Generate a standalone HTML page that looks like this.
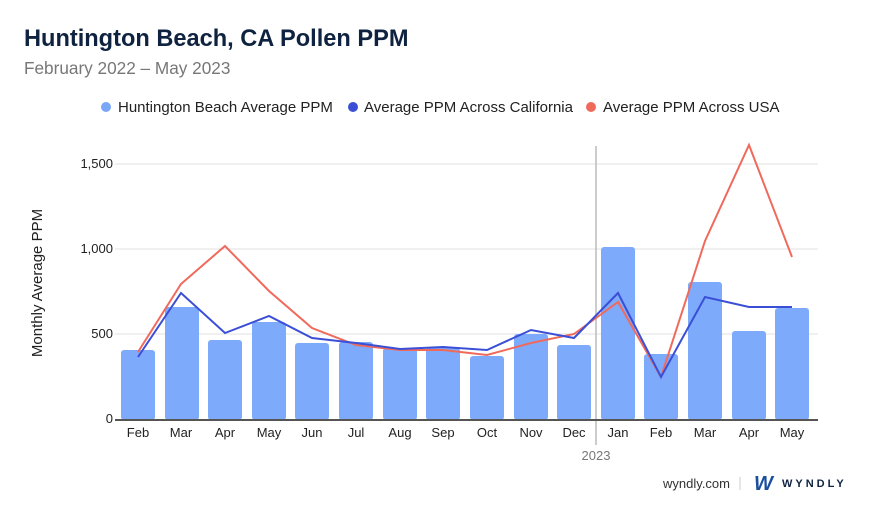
<!DOCTYPE html>
<html><head><meta charset="utf-8"><style>
body{margin:0;background:#fff;font-family:"Liberation Sans",sans-serif;}
svg{display:block}
</style></head><body>
<svg width="880" height="510" xmlns="http://www.w3.org/2000/svg" font-family="Liberation Sans, sans-serif">
<rect width="880" height="510" fill="#fff"/>
<text x="24" y="46" font-size="23.6" font-weight="bold" fill="#0f2340">Huntington Beach, CA Pollen PPM</text>
<text x="24" y="74" font-size="17.2" fill="#777">February 2022 – May 2023</text>
<circle cx="106" cy="107" r="5" fill="#7aa6f8"/><text x="118" y="112" font-size="15" fill="#222">Huntington Beach Average PPM</text>
<circle cx="353" cy="107" r="5" fill="#3a4fd6"/><text x="364" y="112" font-size="15" fill="#222">Average PPM Across California</text>
<circle cx="591" cy="107" r="5" fill="#f06a5c"/><text x="603" y="112" font-size="15" fill="#222">Average PPM Across USA</text>
<g stroke="#e2e2e2" stroke-width="1">
<line x1="115" y1="164" x2="818" y2="164"/><line x1="115" y1="249" x2="818" y2="249"/><line x1="115" y1="334" x2="818" y2="334"/>
</g>
<g font-size="13" fill="#222" text-anchor="end">
<text x="113" y="168">1,500</text><text x="113" y="253">1,000</text><text x="113" y="338">500</text><text x="113" y="423">0</text>
</g>
<text transform="translate(42,283) rotate(-90)" font-size="15" fill="#222" text-anchor="middle">Monthly Average PPM</text>
<g fill="#7eaafb">
<rect x="121" y="350" width="34" height="70" rx="3"/>
<rect x="165" y="307" width="34" height="113" rx="3"/>
<rect x="208" y="340" width="34" height="80" rx="3"/>
<rect x="252" y="322" width="34" height="98" rx="3"/>
<rect x="295" y="343" width="34" height="77" rx="3"/>
<rect x="339" y="342" width="34" height="78" rx="3"/>
<rect x="383" y="348" width="34" height="72" rx="3"/>
<rect x="426" y="348" width="34" height="72" rx="3"/>
<rect x="470" y="356" width="34" height="64" rx="3"/>
<rect x="514" y="334" width="34" height="86" rx="3"/>
<rect x="557" y="345" width="34" height="75" rx="3"/>
<rect x="601" y="247" width="34" height="173" rx="3"/>
<rect x="644" y="354" width="34" height="66" rx="3"/>
<rect x="688" y="282" width="34" height="138" rx="3"/>
<rect x="732" y="331" width="34" height="89" rx="3"/>
<rect x="775" y="308" width="34" height="112" rx="3"/>
</g>
<line x1="596" y1="146" x2="596" y2="445" stroke="#bbb" stroke-width="1.5"/>
<line x1="115" y1="420" x2="818" y2="420" stroke="#555" stroke-width="2"/>
<polyline fill="none" stroke="#f06a5c" stroke-width="2" points="138,352 181,284 225,246 269,291 312,328 356,345 400,350 443,350 487,355 531,343 574,334 618,302 661,377 705,241 749,145 792,257"/>
<polyline fill="none" stroke="#3a4fd6" stroke-width="2" points="138,357 181,293 225,333 269,316 312,338 356,343 400,349 443,347 487,350 531,330 574,338 618,293 661,377 705,297 749,307 792,307"/>
<g font-size="13" fill="#222" text-anchor="middle">
<text x="138" y="437">Feb</text><text x="181" y="437">Mar</text><text x="225" y="437">Apr</text><text x="269" y="437">May</text><text x="312" y="437">Jun</text><text x="356" y="437">Jul</text><text x="400" y="437">Aug</text><text x="443" y="437">Sep</text><text x="487" y="437">Oct</text><text x="531" y="437">Nov</text><text x="574" y="437">Dec</text><text x="618" y="437">Jan</text><text x="661" y="437">Feb</text><text x="705" y="437">Mar</text><text x="749" y="437">Apr</text><text x="792" y="437">May</text>
<text x="596" y="460" fill="#777">2023</text>
</g>
<text x="730" y="488" font-size="13" fill="#333" text-anchor="end">wyndly.com</text>
<line x1="740" y1="477" x2="740" y2="490" stroke="#ccc"/>
<text x="754" y="490" font-size="20" font-weight="bold" font-style="italic" fill="#1a4fa0">W</text>
<text x="782" y="487" font-size="11" font-weight="bold" fill="#0f2340" letter-spacing="3">WYNDLY</text>
</svg>
</body></html>
